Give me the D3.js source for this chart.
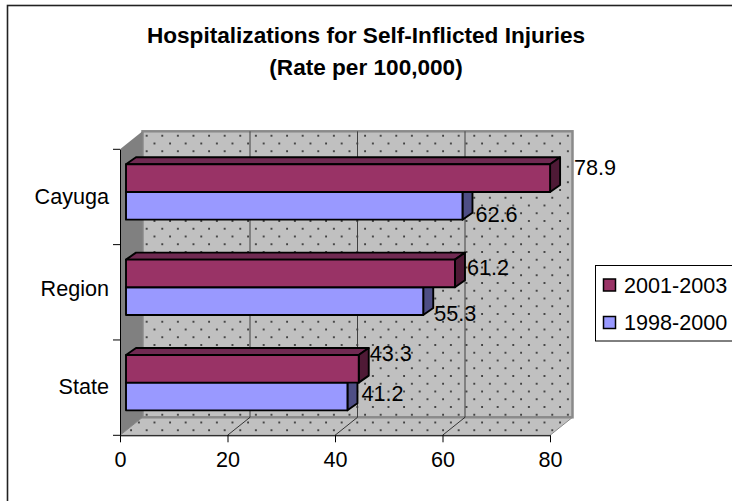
<!DOCTYPE html>
<html>
<head>
<meta charset="utf-8">
<script src="https://cdn.jsdelivr.net/npm/d3@7"></script>
<style>
  html, body { margin: 0; padding: 0; background: #fff; }
  svg { display: block; }
  text { font-family: "Liberation Sans", Arial, sans-serif; fill: #000; }
</style>
</head>
<body>
<div id="main"></div>
<script>
const width = 732;
const height = 501;

const categories = ['Cayuga', 'Region', 'State'];
const seriesNames = ['2001-2003', '1998-2000'];
const values2001 = [78.9, 61.2, 43.3];
const values1998 = [62.6, 55.3, 41.2];
const xTicks = [0, 20, 40, 60, 80];
const titleLines = ['Hospitalizations for Self-Inflicted Injuries', '(Rate per 100,000)'];

// hand placed data labels in the original, offset from the bar end / bar middle
const nudge2001 = [[24, -11], [12, -6], [11, -15]];
const nudge1998 = [[13, 9], [11, 12], [14, -3]];
const categoryNudge = [0, -3, -1];

const maroon = {front: '#993366', top: '#702a52', side: '#4f1a36'};
const blue = {front: '#9999ff', top: '#7373c0', side: '#4e4e85'};
const labelSize = 21.6;

// 3d box
const depthX = 22.5, depthY = 18;
const barDepthX = 10, barDepthY = 7;
const barInsetX = 6, barInsetY = 5;
const barH = 27.7;

const x = d3.scaleLinear().domain([0, 80]).range([120, 550]);
const y = d3.scaleBand().domain(categories).range([149.3, 435.3]);
const yTop = y.range()[0], yBottom = y.range()[1];

const svg = d3.select('#main')
    .append('svg')
    .attr('width', width)
    .attr('height', height);

const defs = svg.append('defs');
const pat = defs.append('pattern')
    .attr('id', 'dots')
    .attr('patternUnits', 'userSpaceOnUse')
    .attr('x', 472.3)
    .attr('y', 335.3)
    .attr('width', 15.6)
    .attr('height', 15.5);
pat.append('rect').attr('width', 15.6).attr('height', 15.5).attr('fill', '#c0c0c0');
pat.selectAll('circle')
    .data([[2, 2], [9.8, 9.75]])
    .enter()
    .append('circle')
    .attr('cx', d => d[0])
    .attr('cy', d => d[1])
    .attr('r', 1)
    .attr('fill', '#222');

// outer chart border, runs off the right and bottom of the picture
svg.append('rect')
    .attr('x', 7.5)
    .attr('y', 5.5)
    .attr('width', width + 20)
    .attr('height', height + 20)
    .attr('fill', '#fff')
    .attr('stroke', '#222')
    .attr('stroke-width', 1.6);

const title = svg.append('g');
title.selectAll('text')
    .data(titleLines)
    .enter()
    .append('text')
    .attr('x', 366)
    .attr('y', (d, i) => 43 + i * 32)
    .attr('text-anchor', 'middle')
    .attr('font-weight', 'bold')
    .attr('font-size', 22.6)
    .text(d => d);

const box = svg.append('g');

// floor
box.append('path')
    .attr('d', d3.line()([
        [x(0), yBottom],
        [x(0) + depthX, yBottom - depthY],
        [x(80) + depthX, yBottom - depthY],
        [x(80), yBottom]
    ]) + 'Z')
    .attr('fill', 'url(#dots)')
    .attr('stroke', '#8a8a8a')
    .attr('stroke-width', 1);

// back wall
box.append('rect')
    .attr('x', x(0) + depthX)
    .attr('y', yTop - depthY)
    .attr('width', x(80) - x(0))
    .attr('height', yBottom - yTop)
    .attr('fill', 'url(#dots)')
    .attr('stroke', '#8a8a8a')
    .attr('stroke-width', 2.5);

// left wall
box.append('path')
    .attr('d', d3.line()([
        [x(0), yTop],
        [x(0) + depthX, yTop - depthY],
        [x(0) + depthX, yBottom - depthY],
        [x(0), yBottom]
    ]) + 'Z')
    .attr('fill', '#808080');

// gridlines on wall and floor
const inner = xTicks.slice(1, -1);
box.selectAll('.grid')
    .data(inner)
    .enter()
    .append('line')
    .attr('class', 'grid')
    .attr('x1', d => x(d) + depthX)
    .attr('x2', d => x(d) + depthX)
    .attr('y1', yTop - depthY)
    .attr('y2', yBottom - depthY)
    .attr('stroke', '#404040')
    .attr('stroke-width', 1);
box.selectAll('.floorgrid')
    .data(inner)
    .enter()
    .append('line')
    .attr('class', 'floorgrid')
    .attr('x1', d => x(d))
    .attr('x2', d => x(d) + depthX)
    .attr('y1', yBottom)
    .attr('y2', yBottom - depthY)
    .attr('stroke', '#111')
    .attr('stroke-width', 0.8);

function xBar(v) {
    return x(v) + barInsetX;
}

function drawBar(g, v, top, colors) {
    const x0 = xBar(0), x1 = xBar(v);
    const bottom = top + barH;
    g.append('path')
        .attr('d', d3.line()([[x0, top], [x0 + barDepthX, top - barDepthY], [x1 + barDepthX, top - barDepthY], [x1, top]]) + 'Z')
        .attr('fill', colors.top);
    g.append('path')
        .attr('d', d3.line()([[x1, top], [x1 + barDepthX, top - barDepthY], [x1 + barDepthX, bottom - barDepthY], [x1, bottom]]) + 'Z')
        .attr('fill', colors.side);
    g.append('rect')
        .attr('x', x0)
        .attr('y', top)
        .attr('width', x1 - x0)
        .attr('height', barH)
        .attr('fill', colors.front);
    g.selectAll('path, rect')
        .attr('stroke', '#000')
        .attr('stroke-width', 1.9)
        .attr('stroke-linejoin', 'round');
}

const bars = svg.append('g');
categories.forEach((c, i) => {
    const mid = y(c) + y.bandwidth() / 2 - barInsetY;
    drawBar(bars.append('g'), values1998[i], mid, blue);
    drawBar(bars.append('g'), values2001[i], mid - barH, maroon);
});

// axes
const xAxis = d3.axisBottom(x)
    .tickValues(xTicks)
    .tickSize(7)
    .tickSizeOuter(0)
    .tickPadding(9);
const gx = svg.append('g')
    .attr('transform', `translate(0,${yBottom})`)
    .call(xAxis);
gx.selectAll('text').attr('font-size', labelSize).attr('font-family', '"Liberation Sans", Arial, sans-serif');

const yAxis = d3.axisLeft(y)
    .tickSize(0)
    .tickPadding(11);
const gy = svg.append('g')
    .attr('transform', `translate(${x(0)},0)`)
    .call(yAxis);
gy.selectAll('text')
    .attr('font-size', labelSize)
    .attr('font-family', '"Liberation Sans", Arial, sans-serif')
    .attr('y', (d, i) => categoryNudge[i]);

// ticks of the category axis sit between the bands
svg.selectAll('.ytick')
    .data(categories.map(c => y(c)).concat([yBottom]))
    .enter()
    .append('line')
    .attr('class', 'ytick')
    .attr('x1', x(0) - 7)
    .attr('x2', x(0))
    .attr('y1', d => d)
    .attr('y2', d => d)
    .attr('stroke', '#000');

function drawLabels(vals, nudge, offset) {
    svg.append('g').selectAll('text')
        .data(vals)
        .enter()
        .append('text')
        .attr('x', (d, i) => xBar(d) + nudge[i][0])
        .attr('y', (d, i) => y(categories[i]) + y.bandwidth() / 2 - barInsetY + offset + nudge[i][1])
        .attr('dy', '.35em')
        .attr('font-size', labelSize)
        .text(d => d.toFixed(1));
}
drawLabels(values2001, nudge2001, -barH / 2);
drawLabels(values1998, nudge1998, barH / 2);

// legend
const legend = svg.append('g');
legend.append('rect')
    .attr('x', 595.5)
    .attr('y', 265.5)
    .attr('width', 160)
    .attr('height', 75.5)
    .attr('fill', '#fff')
    .attr('stroke', '#000');
const legendColors = [maroon.front, blue.front];
const items = legend.selectAll('.item')
    .data(seriesNames)
    .enter()
    .append('g')
    .attr('class', 'item')
    .attr('transform', (d, i) => `translate(0,${285 + i * 37.5})`);
items.append('rect')
    .attr('x', 603.5)
    .attr('y', -6)
    .attr('width', 12)
    .attr('height', 12)
    .attr('fill', (d, i) => legendColors[i])
    .attr('stroke', '#000')
    .attr('stroke-width', 1.5);
items.append('text')
    .attr('x', 624)
    .attr('dy', '.35em')
    .attr('font-size', labelSize)
    .text(d => d);
</script>
</body>
</html>
